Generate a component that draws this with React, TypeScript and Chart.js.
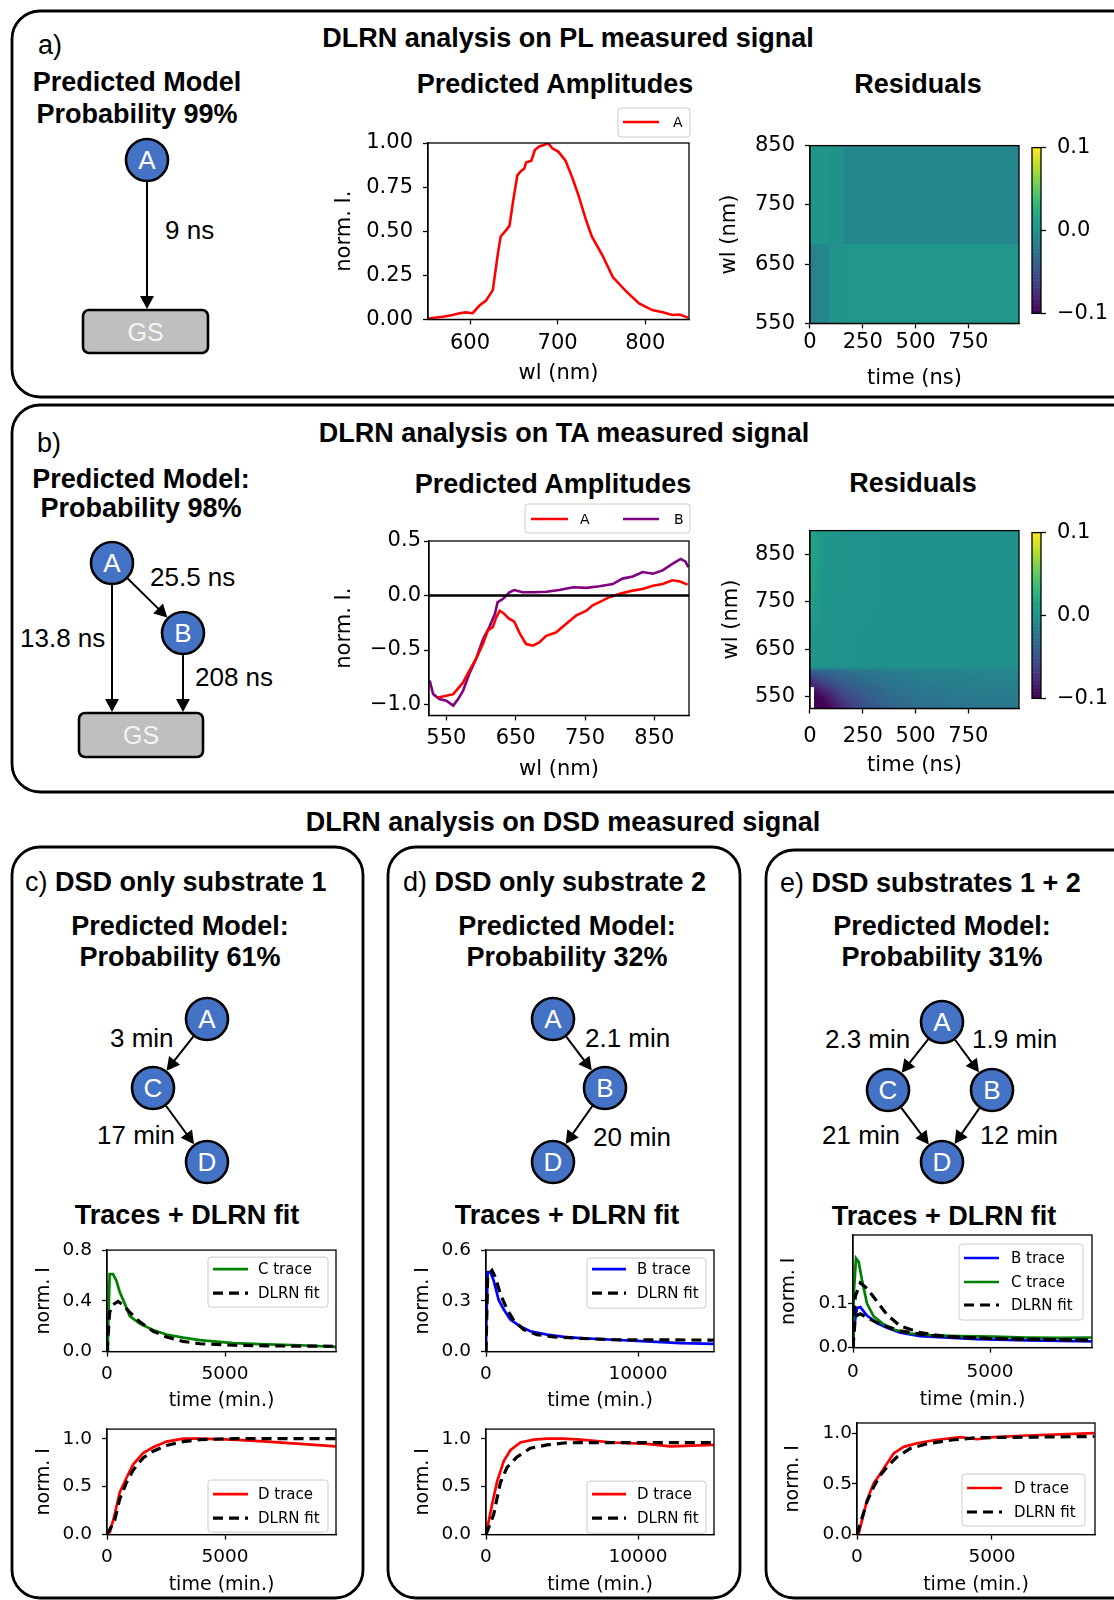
import React, { useEffect, useRef } from 'react';
import { Chart, registerables } from 'chart.js';
Chart.register(...registerables);

const ARIAL = '"Liberation Sans", Arial, Helvetica, sans-serif';
const MPL = '"DejaVu Sans", "Liberation Sans", sans-serif';
Chart.defaults.font.family = MPL;
Chart.defaults.color = '#000';

// ---------------- Panel a: PL amplitudes ----------------
const plWl = [552, 569, 580, 588, 595, 603, 611, 618, 626, 632, 635, 641, 645, 649, 654, 658, 662, 664, 670, 674, 679, 685, 689, 694, 701, 709, 717, 724, 732, 739, 751, 763, 778, 793, 808, 820, 831, 839, 849];
const plAmpA = [0.005, 0.015, 0.025, 0.035, 0.04, 0.035, 0.08, 0.105, 0.166, 0.38, 0.47, 0.505, 0.53, 0.665, 0.817, 0.84, 0.855, 0.89, 0.9, 0.96, 0.98, 0.99, 1.0, 0.97, 0.95, 0.9, 0.8, 0.7, 0.57, 0.47, 0.365, 0.24, 0.16, 0.09, 0.053, 0.04, 0.025, 0.028, 0.01];
const plWlTicks = [600, 700, 800];
const plAmpTicks = [0, 0.25, 0.5, 0.75, 1.0];

// ---------------- Panel b: TA amplitudes ----------------
const taWlA = [538, 550, 560, 564, 574, 584, 593, 603, 610, 617, 622, 627, 632, 640, 648, 656, 665, 675, 684, 694, 708, 723, 737, 752, 761, 776, 785, 800, 819, 833, 848, 862, 876, 886, 898];
const taAmpA = [-0.935, -0.92, -0.905, -0.875, -0.8, -0.68, -0.58, -0.44, -0.32, -0.29, -0.2, -0.14, -0.16, -0.21, -0.24, -0.35, -0.445, -0.46, -0.43, -0.37, -0.34, -0.26, -0.185, -0.14, -0.09, -0.045, -0.015, 0.015, 0.045, 0.06, 0.09, 0.105, 0.14, 0.13, 0.1];
const taWlB = [526, 531, 540, 550, 560, 567, 574, 584, 593, 603, 612, 620, 624, 632, 641, 648, 660, 675, 694, 713, 733, 752, 771, 790, 804, 819, 833, 848, 862, 876, 888, 895, 899];
const taAmpB = [-0.78, -0.905, -0.95, -0.965, -1.01, -0.95, -0.875, -0.705, -0.58, -0.4, -0.29, -0.17, -0.06, -0.03, 0.03, 0.05, 0.03, 0.03, 0.035, 0.05, 0.075, 0.07, 0.085, 0.105, 0.155, 0.175, 0.215, 0.2, 0.23, 0.29, 0.335, 0.31, 0.26];
const taZeroWl = [525, 900];
const taZeroVal = [0, 0];
const taWlTicks = [550, 650, 750, 850];
const taAmpTicks = [-1.0, -0.5, 0.0, 0.5];

// ---------------- Residual maps ----------------
const resTimeTicks = [0, 250, 500, 750];
const resWlTicks = [550, 650, 750, 850];
const cbarTicks = [-0.1, 0.0, 0.1];
const resPLTimeEdges = [0, 30, 90, 160, 990];
const resPLWlEdges = [550, 685, 850];
const resPLValues = [
  [-0.012, -0.008, 0.002, 0.004],
  [0.004, 0.003, 0.0, -0.009],
];
const resTATimeEdges = [0, 20, 45, 80, 130, 200, 300, 450, 650, 990];
const resTAWlEdges = [525, 540, 555, 570, 585, 600, 610, 614, 700, 800, 900];
const resTAValues = [
  [null, -0.1, -0.1, -0.09, -0.07, -0.05, -0.035, -0.025, -0.02],
  [null, -0.1, -0.095, -0.08, -0.06, -0.045, -0.032, -0.023, -0.018],
  [null, -0.09, -0.08, -0.068, -0.052, -0.04, -0.028, -0.02, -0.015],
  [-0.08, -0.07, -0.062, -0.052, -0.042, -0.032, -0.024, -0.017, -0.013],
  [-0.055, -0.05, -0.045, -0.04, -0.033, -0.026, -0.02, -0.014, -0.011],
  [-0.04, -0.037, -0.034, -0.03, -0.026, -0.021, -0.016, -0.012, -0.009],
  [0.004, 0.003, 0.002, 0.001, 0.001, 0.0, 0.0, 0.0, 0.0],
  [0.004, 0.003, 0.002, 0.001, 0.001, 0.0, 0.0, 0.0, 0.0],
  [0.012, 0.008, 0.005, 0.002, 0.001, 0.001, 0.0, 0.0, 0.0],
  [0.016, 0.011, 0.006, 0.003, 0.002, 0.001, 0.0, 0.0, 0.0],
];

// ---------------- Panel c traces ----------------
const cTimeC = [0, 42, 113, 255, 396, 538, 680, 963, 1388, 1954, 2520, 3230, 3936, 5352, 6768, 8185, 9700];
const cTraceC = [0.0, 0.14, 0.61, 0.61, 0.56, 0.47, 0.41, 0.28, 0.22, 0.17, 0.135, 0.11, 0.09, 0.067, 0.057, 0.05, 0.037];
const cFitTimeC = [0, 113, 255, 467, 680, 963, 1388, 1954, 2520, 3230, 3936, 5352, 6768, 9700];
const cFitC = [0, 0.31, 0.37, 0.395, 0.37, 0.31, 0.235, 0.16, 0.116, 0.08, 0.062, 0.05, 0.045, 0.042];
const cTimeD = [113, 326, 538, 821, 1104, 1529, 1954, 2520, 3230, 3936, 5352, 6768, 8185, 9700];
const cTraceD = [0.016, 0.21, 0.44, 0.59, 0.73, 0.85, 0.91, 0.97, 1.0, 1.0, 0.99, 0.97, 0.945, 0.92];
const cFitTimeD = [0, 326, 538, 821, 1104, 1529, 1954, 2520, 3230, 3936, 5352, 9700];
const cFitD = [0, 0.15, 0.37, 0.54, 0.67, 0.8, 0.87, 0.93, 0.97, 0.99, 1.0, 1.0];
const cTimeTicks = [0, 5000];
const cTopTicks = [0, 0.4, 0.8];

// ---------------- Panel d traces ----------------
const dTimeB = [0, 10, 110, 285, 504, 833, 1162, 1600, 2259, 2917, 4013, 5110, 6206, 8399, 10592, 12785, 15000];
const dTraceB = [0, 0.12, 0.47, 0.47, 0.42, 0.305, 0.25, 0.19, 0.148, 0.12, 0.1, 0.087, 0.08, 0.07, 0.06, 0.05, 0.046];
const dFitTimeB = [0, 110, 395, 614, 943, 1382, 1820, 2478, 3355, 4452, 6206, 8399, 15000];
const dFitB = [0, 0.45, 0.48, 0.44, 0.34, 0.25, 0.185, 0.13, 0.1, 0.087, 0.078, 0.07, 0.068];
const dTimeD = [0, 395, 724, 1162, 1600, 2259, 3136, 4013, 5110, 6206, 8399, 10592, 12127, 15000];
const dTraceD = [0, 0.31, 0.55, 0.765, 0.88, 0.96, 0.99, 1.0, 1.0, 0.99, 0.96, 0.945, 0.92, 0.935];
const dFitTimeD = [0, 504, 943, 1382, 2040, 2917, 4013, 5110, 6206, 15000];
const dFitD = [0, 0.21, 0.54, 0.7, 0.81, 0.9, 0.935, 0.955, 0.96, 0.96];
const dTimeTicks = [0, 10000];
const dTopTicks = [0, 0.3, 0.6];

// ---------------- Panel e traces ----------------
const eTimeB = [0, 24, 146, 267, 510, 874, 1238, 1724, 2452, 3302, 4516, 6337, 8704];
const eTraceB = [0, 0.041, 0.09, 0.092, 0.073, 0.056, 0.045, 0.034, 0.026, 0.023, 0.019, 0.0165, 0.014];
const eTimeC = [0, 24, 109, 206, 328, 510, 753, 1117, 1481, 2088, 2938, 3909, 5123, 6337, 7551, 8704];
const eTraceC = [0, 0.117, 0.203, 0.195, 0.154, 0.1, 0.071, 0.053, 0.041, 0.032, 0.028, 0.026, 0.025, 0.023, 0.022, 0.023];
const eFitTimeB = [0, 85, 267, 631, 1117, 1724, 2695, 3909, 6337, 8704];
const eFitB = [0, 0.071, 0.077, 0.064, 0.05, 0.038, 0.028, 0.023, 0.019, 0.017];
const eFitTimeC = [0, 85, 267, 510, 874, 1238, 1724, 2452, 3302, 5123, 8704];
const eFitC = [0, 0.117, 0.147, 0.135, 0.105, 0.075, 0.049, 0.034, 0.026, 0.02, 0.017];
const eTimeD = [62, 370, 617, 865, 1111, 1358, 1729, 2223, 2841, 3829, 4446, 5064, 6300, 7535, 8800];
const eTraceD = [0.01, 0.34, 0.505, 0.6, 0.7, 0.8, 0.865, 0.9, 0.93, 0.96, 0.94, 0.96, 0.977, 0.987, 1.0];
const eFitTimeD = [0, 370, 617, 865, 1111, 1482, 1976, 2594, 3582, 4446, 6300, 8800];
const eFitD = [0, 0.325, 0.47, 0.585, 0.667, 0.765, 0.85, 0.895, 0.935, 0.955, 0.96, 0.967];
const eTimeTicks = [0, 5000];
const eTopTicks = [0, 0.1];
const bottomTicks = [0, 0.5, 1.0];

// ---------------- helpers ----------------
const VIR = ['#440154', '#482475', '#414487', '#355f8d', '#2a788e', '#21918c', '#22a884', '#44bf70', '#7ad151', '#bddf26', '#fde725'];
function hex(h: string) { return [1, 3, 5].map((i) => parseInt(h.slice(i, i + 2), 16)); }
function viridis(t: number) {
  t = Math.max(0, Math.min(1, t));
  const p = t * 10; const i = Math.min(9, Math.floor(p)); const f = p - i;
  const a = hex(VIR[i]); const b = hex(VIR[i + 1]);
  const c = a.map((v, k) => Math.round(v + (b[k] - v) * f));
  return `rgb(${c[0]},${c[1]},${c[2]})`;
}
const mfmt = (d: number) => (v: any) => {
  const n = Number(v);
  if (Math.abs(n) < 1e-9) return (0).toFixed(d);
  return n.toFixed(d).replace('-', '\u2212');
};
const ifmt = (v: any) => String(Math.round(Number(v)));
const pts = (xs: number[], ys: number[]) => xs.map((x, i) => ({ x, y: ys[i] }));

function lineDs(label: string, xs: number[], ys: number[], color: string, width: number, dash: number[] = [], order = 1) {
  return { label, data: pts(xs, ys), borderColor: color, backgroundColor: color, borderWidth: width, borderDash: dash, pointRadius: 0, tension: 0, fill: false, order };
}

function axis(pos: string, min: number, max: number, ticks: number[], fmt: any, title: string, tickSize: number, titleSize: number, pad: number, size: number, isX: boolean) {
  return {
    type: 'linear', position: pos, min, max,
    afterBuildTicks: (sc: any) => { sc.ticks = ticks.map((v) => ({ value: v })); },
    afterFit: (sc: any) => { if (isX) sc.height = size; else sc.width = size; },
    ticks: { padding: pad, font: { family: MPL, size: tickSize }, color: '#000', maxRotation: 0, autoSkip: false, includeBounds: false, callback: (v: any) => fmt(v) },
    grid: { display: true, drawOnChartArea: false, drawTicks: true, tickLength: 5, tickWidth: 1.3, tickColor: '#000' },
    border: { display: true, color: '#000', width: 1.3 },
    title: { display: !!title, text: title, font: { family: MPL, size: titleSize }, color: '#000', padding: { top: 0, bottom: 0 } },
  };
}

function makeDecor(spec: any) {
  return {
    id: 'decor',
    afterDatasetsDraw(chart: any) {
      const { ctx, chartArea: ca } = chart;
      ctx.save();
      ctx.setLineDash([]);
      ctx.strokeStyle = '#000'; ctx.lineWidth = 1.3;
      ctx.strokeRect(ca.left, ca.top, ca.right - ca.left, ca.bottom - ca.top);
      const lg = spec.legend;
      if (lg) {
        const px = (x: number) => ca.left + (x - spec.L);
        const py = (y: number) => ca.top + (y - spec.T);
        const [x1, y1, x2, y2] = lg.box;
        const r = 3;
        const X1 = px(x1), Y1 = py(y1), X2 = px(x2), Y2 = py(y2);
        ctx.beginPath();
        ctx.moveTo(X1 + r, Y1); ctx.lineTo(X2 - r, Y1); ctx.arcTo(X2, Y1, X2, Y1 + r, r);
        ctx.lineTo(X2, Y2 - r); ctx.arcTo(X2, Y2, X2 - r, Y2, r);
        ctx.lineTo(X1 + r, Y2); ctx.arcTo(X1, Y2, X1, Y2 - r, r);
        ctx.lineTo(X1, Y1 + r); ctx.arcTo(X1, Y1, X1 + r, Y1, r);
        ctx.closePath();
        ctx.fillStyle = 'rgba(255,255,255,0.85)'; ctx.fill();
        ctx.strokeStyle = '#cccccc'; ctx.lineWidth = 1; ctx.stroke();
        lg.items.forEach((it: any) => {
          const ds = chart.data.datasets[it.ds];
          ctx.strokeStyle = ds.borderColor; ctx.lineWidth = ds.borderWidth;
          ctx.setLineDash(ds.borderDash || []);
          ctx.beginPath(); ctx.moveTo(px(it.x1), py(it.y)); ctx.lineTo(px(it.x2), py(it.y)); ctx.stroke();
          ctx.setLineDash([]);
          ctx.fillStyle = '#000'; ctx.font = `${lg.size}px ${MPL}`;
          ctx.textBaseline = 'middle'; ctx.textAlign = 'left';
          ctx.fillText(ds.label, px(it.tx), py(it.y) + 1);
        });
      }
      ctx.restore();
    },
  };
}

function idxIn(edges: number[], v: number) {
  for (let i = 0; i < edges.length - 1; i++) if (v >= edges[i] && v <= edges[i + 1]) return i;
  return v < edges[0] ? 0 : edges.length - 2;
}
function centers(edges: number[]) { return edges.slice(0, -1).map((e, i) => (e + edges[i + 1]) / 2); }
function bracket(cs: number[], v: number) {
  if (v <= cs[0]) return [0, 0, 0];
  if (v >= cs[cs.length - 1]) return [cs.length - 1, cs.length - 1, 0];
  for (let i = 0; i < cs.length - 1; i++) if (v >= cs[i] && v <= cs[i + 1]) return [i, i + 1, (v - cs[i]) / (cs[i + 1] - cs[i])];
  return [0, 0, 0];
}

function makeHeat(tEdges: number[], wEdges: number[], values: any[][], smooth: boolean) {
  return {
    id: 'heat',
    beforeDatasetsDraw(chart: any) {
      const { ctx, chartArea: ca, scales } = chart;
      const xs = scales.x, ys = scales.y;
      ctx.save();
      ctx.beginPath(); ctx.rect(ca.left, ca.top, ca.right - ca.left, ca.bottom - ca.top); ctx.clip();
      if (!smooth) {
        for (let r = 0; r < values.length; r++) {
          for (let c = 0; c < values[r].length; c++) {
            const v = values[r][c];
            if (v === null || v === undefined) continue;
            const xa = xs.getPixelForValue(tEdges[c]), xb = xs.getPixelForValue(tEdges[c + 1]);
            const ya = ys.getPixelForValue(wEdges[r]), yb = ys.getPixelForValue(wEdges[r + 1]);
            ctx.fillStyle = viridis((v + 0.1) / 0.2);
            ctx.fillRect(Math.min(xa, xb), Math.min(ya, yb), Math.abs(xb - xa) + 0.6, Math.abs(yb - ya) + 0.6);
          }
        }
      } else {
        const tc = centers(tEdges), wc = centers(wEdges);
        const step = 2;
        for (let px = ca.left; px < ca.right; px += step) {
          const t = xs.getValueForPixel(px + step / 2);
          const [c0, c1, fx] = bracket(tc, t);
          for (let py = ca.top; py < ca.bottom; py += step) {
            const w = ys.getValueForPixel(py + step / 2);
            const own = values[idxIn(wEdges, w)][idxIn(tEdges, t)];
            if (own === null || own === undefined) continue;
            const [r0, r1, fy] = bracket(wc, w);
            const cand = [[r0, c0, (1 - fx) * (1 - fy)], [r0, c1, fx * (1 - fy)], [r1, c0, (1 - fx) * fy], [r1, c1, fx * fy]];
            let s = 0, ws = 0;
            cand.forEach(([r, c, k]: any) => { const v = values[r][c]; if (v !== null && v !== undefined && k > 0) { s += v * k; ws += k; } });
            const v = ws > 0 ? s / ws : own;
            ctx.fillStyle = viridis((v + 0.1) / 0.2);
            ctx.fillRect(px, py, step + 0.5, step + 0.5);
          }
        }
      }
      ctx.restore();
    },
  };
}

const cbarPlugin = {
  id: 'cbar',
  beforeDatasetsDraw(chart: any) {
    const { ctx, chartArea: ca, scales } = chart;
    const ys = scales.y;
    const n = 120;
    ctx.save();
    for (let i = 0; i < n; i++) {
      const v0 = -0.1 + (0.2 * i) / n, v1 = -0.1 + (0.2 * (i + 1)) / n;
      const ya = ys.getPixelForValue(v0), yb = ys.getPixelForValue(v1);
      ctx.fillStyle = viridis((v0 + v1 + 0.2) / 0.4);
      ctx.fillRect(ca.left, Math.min(ya, yb), ca.right - ca.left, Math.abs(yb - ya) + 0.6);
    }
    ctx.strokeStyle = '#000'; ctx.lineWidth = 1.3;
    ctx.strokeRect(ca.left, ca.top, ca.right - ca.left, ca.bottom - ca.top);
    ctx.restore();
  },
};

function ChartCanvas({ rect, build }: { rect: any; build: () => any }) {
  const ref = useRef<HTMLCanvasElement>(null);
  useEffect(() => {
    const cfg = build();
    const chart = new Chart(ref.current as HTMLCanvasElement, cfg);
    return () => chart.destroy();
  }, []);
  return <canvas ref={ref} width={rect.w} height={rect.h} style={{ position: 'absolute', left: rect.x, top: rect.y, width: rect.w, height: rect.h }} />;
}

function baseOptions(pad: any) {
  return {
    responsive: false, animation: false, devicePixelRatio: 1, events: [],
    layout: { padding: pad },
    plugins: { legend: { display: false }, tooltip: { enabled: false }, title: { display: false } },
  };
}

function Plot({ spec }: { spec: any }) {
  const s = spec;
  const tS = s.tickSize, tT = s.titleSize;
  const xPad = s.xLabelY - s.B - 5 - 0.6 * tS;
  const xH = s.xTitleY - s.B + 0.6 * tT;
  const yPad = s.L - 5 - s.yLabelR;
  const yW = s.L - s.yTitleX + 0.6 * tT;
  const padB = 4, padT = s.padT, padR = s.padR;
  const rect = { x: Math.round(s.L - yW - 4), y: s.T - padT, w: 0, h: 0 };
  const realPadL = s.L - yW - rect.x;
  rect.w = Math.round(realPadL + yW + (s.R - s.L) + padR);
  rect.h = Math.round(padT + (s.B - s.T) + xH + padB);
  const build = () => {
    const opts: any = baseOptions({ left: realPadL, right: padR, top: padT, bottom: padB });
    opts.scales = {
      x: axis('bottom', s.xMin, s.xMax, s.xTicks, s.xFmt, s.xTitle, tS, tT, xPad, xH, true),
      y: axis('left', s.yMin, s.yMax, s.yTicks, s.yFmt, s.yTitle, tS, tT, yPad, yW, false),
    };
    const plugins: any[] = [];
    if (s.heat) plugins.push(makeHeat(s.heat[0], s.heat[1], s.heat[2], !!s.smooth));
    plugins.push(makeDecor(s));
    return { type: 'line', data: { datasets: s.datasets || [] }, options: opts, plugins };
  };
  return <ChartCanvas rect={rect} build={build} />;
}

function Colorbar({ L, R, T, B }: any) {
  const padL = 2, padR = 4, padT = 14, padB = 14, yW = 66;
  const rect = { x: L - padL, y: T - padT, w: padL + (R - L) + yW + padR, h: padT + (B - T) + padB };
  const build = () => {
    const opts: any = baseOptions({ left: padL, right: padR, top: padT, bottom: padB });
    const y: any = axis('right', -0.1, 0.1, cbarTicks, mfmt(1), '', 21, 21, 11, yW, false);
    y.border = { display: false };
    opts.scales = { x: { type: 'linear', display: false, min: 0, max: 1 }, y };
    return { type: 'line', data: { datasets: [] }, options: opts, plugins: [cbarPlugin] };
  };
  return <ChartCanvas rect={rect} build={build} />;
}

// ---------------- chart specs ----------------
const specA1 = {
  L: 428, T: 143, R: 689, B: 319, padT: 40, padR: 10, tickSize: 21, titleSize: 21,
  xMin: 552, xMax: 850, xTicks: plWlTicks, xFmt: ifmt, xTitle: 'wl (nm)', xLabelY: 343.5, xTitleY: 373,
  yMin: 0, yMax: 1, yTicks: plAmpTicks, yFmt: mfmt(2), yTitle: 'norm. I.', yLabelR: 413, yTitleX: 345,
  datasets: [lineDs('A', plWl, plAmpA, '#ff0000', 2.6)],
  legend: { box: [618, 108, 690, 137], size: 14, items: [{ ds: 0, x1: 623, x2: 659, tx: 673, y: 122 }] },
};
const specA2 = {
  L: 810, T: 138, R: 1019, B: 323, padT: 15, padR: 5, tickSize: 21, titleSize: 21,
  xMin: 0, xMax: 990, xTicks: resTimeTicks, xFmt: ifmt, xTitle: 'time (ns)', xLabelY: 342, xTitleY: 378,
  yMin: 550, yMax: 850, yTicks: resWlTicks, yFmt: ifmt, yTitle: 'wl (nm)', yLabelR: 795, yTitleX: 730,
  heat: [resPLTimeEdges, resPLWlEdges, resPLValues], smooth: false,
};
const specB1 = {
  L: 429, T: 541, R: 689, B: 715, padT: 40, padR: 10, tickSize: 21, titleSize: 21,
  xMin: 525, xMax: 900, xTicks: taWlTicks, xFmt: ifmt, xTitle: 'wl (nm)', xLabelY: 738, xTitleY: 769,
  yMin: -1.1, yMax: 0.5, yTicks: taAmpTicks, yFmt: mfmt(1), yTitle: 'norm. I.', yLabelR: 421, yTitleX: 345,
  datasets: [
    lineDs('A', taWlA, taAmpA, '#ff0000', 2.6, [], 1),
    lineDs('B', taWlB, taAmpB, '#800080', 2.6, [], 2),
    lineDs('zero', taZeroWl, taZeroVal, '#000000', 2.6, [], 0),
  ],
  legend: { box: [525, 504, 690, 533], size: 14, items: [{ ds: 0, x1: 531, x2: 568, tx: 580, y: 519 }, { ds: 1, x1: 623, x2: 659, tx: 674, y: 519 }] },
};
const specB2 = {
  L: 810, T: 523, R: 1019, B: 708, padT: 15, padR: 5, tickSize: 21, titleSize: 21,
  xMin: 0, xMax: 990, xTicks: resTimeTicks, xFmt: ifmt, xTitle: 'time (ns)', xLabelY: 736, xTitleY: 765,
  yMin: 525, yMax: 900, yTicks: resWlTicks, yFmt: ifmt, yTitle: 'wl (nm)', yLabelR: 795, yTitleX: 732,
  heat: [resTATimeEdges, resTAWlEdges, resTAValues], smooth: true,
};

const FIT = [10, 6];
function traceSpec(o: any) {
  return { padT: 15, padR: 8, tickSize: 18.5, titleSize: 19, xFmt: ifmt, xTitle: 'time (min.)', yFmt: mfmt(1), yTitle: 'norm. I', ...o };
}
const specC1 = traceSpec({
  L: 107, T: 1244, R: 336, B: 1352, xMin: 0, xMax: 9700, xTicks: cTimeTicks, xLabelY: 1375, xTitleY: 1401,
  yMin: 0, yMax: 0.8, yTicks: cTopTicks, yLabelR: 92, yTitleX: 44,
  datasets: [lineDs('C trace', cTimeC, cTraceC, '#008000', 2.7, [], 1), lineDs('DLRN fit', cFitTimeC, cFitC, '#000000', 3.2, FIT, 0)],
  legend: { box: [208, 1251, 328, 1301], size: 15, items: [{ ds: 0, x1: 213, x2: 248, tx: 258, y: 1263 }, { ds: 1, x1: 213, x2: 248, tx: 258, y: 1287 }] },
});
const specC2 = traceSpec({
  L: 107, T: 1423, R: 336, B: 1535, xMin: 0, xMax: 9700, xTicks: cTimeTicks, xLabelY: 1558, xTitleY: 1585,
  yMin: 0, yMax: 1.1, yTicks: bottomTicks, yLabelR: 92, yTitleX: 44,
  datasets: [lineDs('D trace', cTimeD, cTraceD, '#ff0000', 2.7, [], 1), lineDs('DLRN fit', cFitTimeD, cFitD, '#000000', 3.2, FIT, 0)],
  legend: { box: [208, 1474, 328, 1526], size: 15, items: [{ ds: 0, x1: 213, x2: 248, tx: 258, y: 1488 }, { ds: 1, x1: 213, x2: 248, tx: 258, y: 1512 }] },
});
const specD1 = traceSpec({
  L: 486, T: 1244, R: 714, B: 1352, xMin: 0, xMax: 15000, xTicks: dTimeTicks, xLabelY: 1375, xTitleY: 1401,
  yMin: 0, yMax: 0.6, yTicks: dTopTicks, yLabelR: 471, yTitleX: 423,
  datasets: [lineDs('B trace', dTimeB, dTraceB, '#0000ff', 2.7, [], 1), lineDs('DLRN fit', dFitTimeB, dFitB, '#000000', 3.2, FIT, 0)],
  legend: { box: [587, 1252, 706, 1302], size: 15, items: [{ ds: 0, x1: 592, x2: 626, tx: 637, y: 1263 }, { ds: 1, x1: 592, x2: 626, tx: 637, y: 1287 }] },
});
const specD2 = traceSpec({
  L: 486, T: 1423, R: 714, B: 1535, xMin: 0, xMax: 15000, xTicks: dTimeTicks, xLabelY: 1558, xTitleY: 1585,
  yMin: 0, yMax: 1.1, yTicks: bottomTicks, yLabelR: 471, yTitleX: 423,
  datasets: [lineDs('D trace', dTimeD, dTraceD, '#ff0000', 2.7, [], 1), lineDs('DLRN fit', dFitTimeD, dFitD, '#000000', 3.2, FIT, 0)],
  legend: { box: [587, 1475, 706, 1527], size: 15, items: [{ ds: 0, x1: 592, x2: 626, tx: 637, y: 1488 }, { ds: 1, x1: 592, x2: 626, tx: 637, y: 1512 }] },
});
const specE1 = traceSpec({
  L: 853, T: 1235, R: 1092, B: 1348, xMin: 0, xMax: 8720, xTicks: eTimeTicks, xLabelY: 1373, xTitleY: 1400,
  yMin: 0, yMax: 0.256, yTicks: eTopTicks, yLabelR: 848, yTitleX: 789,
  datasets: [
    lineDs('B trace', eTimeB, eTraceB, '#0000ff', 2.7, [], 2),
    lineDs('C trace', eTimeC, eTraceC, '#008000', 2.7, [], 1),
    lineDs('DLRN fit', eFitTimeB, eFitB, '#000000', 3.2, FIT, 0),
    lineDs('DLRN fit', eFitTimeC, eFitC, '#000000', 3.2, FIT, 0),
  ],
  legend: { box: [959, 1244, 1083, 1320], size: 15, items: [{ ds: 0, x1: 964, x2: 999, tx: 1011, y: 1258 }, { ds: 1, x1: 964, x2: 999, tx: 1011, y: 1282 }, { ds: 2, x1: 964, x2: 999, tx: 1011, y: 1305 }] },
});
const specE2 = traceSpec({
  L: 857, T: 1423, R: 1095, B: 1535, xMin: 0, xMax: 8815, xTicks: eTimeTicks, xLabelY: 1558, xTitleY: 1585,
  yMin: 0, yMax: 1.1, yTicks: bottomTicks, yLabelR: 852, yTitleX: 793,
  datasets: [lineDs('D trace', eTimeD, eTraceD, '#ff0000', 2.7, [], 1), lineDs('DLRN fit', eFitTimeD, eFitD, '#000000', 3.2, FIT, 0)],
  legend: { box: [962, 1474, 1085, 1526], size: 15, items: [{ ds: 0, x1: 967, x2: 1002, tx: 1014, y: 1488 }, { ds: 1, x1: 967, x2: 1002, tx: 1014, y: 1512 }] },
});

// ---------------- diagrams ----------------
function Node({ x, y, label }: any) {
  return (
    <g>
      <circle cx={x} cy={y} r={21} fill="#4472c4" stroke="#000" strokeWidth={2.6} />
      <text x={x} y={y + 9.3} textAnchor="middle" fontFamily={ARIAL} fontSize={26} fill="#fff">{label}</text>
    </g>
  );
}
function Arrow({ x1, y1, x2, y2, r1 = 22, r2 = 22 }: any) {
  const dx = x2 - x1, dy = y2 - y1, len = Math.hypot(dx, dy);
  const ux = dx / len, uy = dy / len;
  const sx = x1 + ux * r1, sy = y1 + uy * r1;
  const tx = x2 - ux * r2, ty = y2 - uy * r2;
  const hl = 13, hw = 7;
  const bx = tx - ux * hl, by = ty - uy * hl;
  const px = -uy, py = ux;
  return (
    <g>
      <line x1={sx} y1={sy} x2={bx + ux} y2={by + uy} stroke="#000" strokeWidth={2} />
      <polygon points={`${tx},${ty} ${bx + px * hw},${by + py * hw} ${bx - px * hw},${by - py * hw}`} fill="#000" />
    </g>
  );
}
function GS({ x, y, w, h }: any) {
  return (
    <g>
      <rect x={x} y={y} width={w} height={h} rx={6} fill="#bfbfbf" stroke="#000" strokeWidth={2.6} />
      <text x={x + w / 2} y={y + h / 2 + 9} textAnchor="middle" fontFamily={ARIAL} fontSize={25} fill="#f4f4f4">GS</text>
    </g>
  );
}

function Diagrams() {
  return (
    <svg width={1114} height={1600} style={{ position: 'absolute', left: 0, top: 0 }}>
      <rect x={12} y={11} width={1130} height={386} rx={28} fill="none" stroke="#000" strokeWidth={2.8} />
      <rect x={12} y={405} width={1130} height={387} rx={28} fill="none" stroke="#000" strokeWidth={2.8} />
      <rect x={12} y={847} width={351} height={751} rx={28} fill="none" stroke="#000" strokeWidth={2.8} />
      <rect x={388} y={847} width={352} height={751} rx={28} fill="none" stroke="#000" strokeWidth={2.8} />
      <rect x={766} y={850} width={380} height={748} rx={28} fill="none" stroke="#000" strokeWidth={2.8} />
      <Arrow x1={147} y1={160} x2={147} y2={309} r2={0} />
      <GS x={83} y={310} w={125} h={43} />
      <Node x={147} y={160} label="A" />
      <Arrow x1={112} y1={563} x2={112} y2={712} r2={0} />
      <Arrow x1={183} y1={633} x2={183} y2={712} r2={0} />
      <Arrow x1={112} y1={563} x2={183} y2={633} />
      <GS x={79} y={713} w={124} h={44} />
      <Node x={112} y={563} label="A" />
      <Node x={183} y={633} label="B" />
      <Arrow x1={207} y1={1019} x2={153} y2={1088} />
      <Arrow x1={153} y1={1088} x2={207} y2={1162} />
      <Node x={207} y={1019} label="A" />
      <Node x={153} y={1088} label="C" />
      <Node x={207} y={1162} label="D" />
      <Arrow x1={553} y1={1019} x2={605} y2={1088} />
      <Arrow x1={605} y1={1088} x2={553} y2={1162} />
      <Node x={553} y={1019} label="A" />
      <Node x={605} y={1088} label="B" />
      <Node x={553} y={1162} label="D" />
      <Arrow x1={942} y1={1022} x2={888} y2={1090} />
      <Arrow x1={942} y1={1022} x2={992} y2={1090} />
      <Arrow x1={888} y1={1090} x2={942} y2={1162} />
      <Arrow x1={992} y1={1090} x2={942} y2={1162} />
      <Node x={942} y={1022} label="A" />
      <Node x={888} y={1090} label="C" />
      <Node x={992} y={1090} label="B" />
      <Node x={942} y={1162} label="D" />
    </svg>
  );
}

function Txt({ x, y, size = 27, bold = false, align = 'center', children }: any) {
  return (
    <div style={{
      position: 'absolute', left: x, top: y, transform: align === 'center' ? 'translate(-50%,-50%)' : 'translate(0,-50%)',
      fontFamily: ARIAL, fontSize: size, lineHeight: 1, fontWeight: bold ? 700 : 400, whiteSpace: 'nowrap', color: '#000',
    }}>{children}</div>
  );
}

function Texts() {
  return (
    <>
      <Txt x={38} y={45} align="left">a)</Txt>
      <Txt x={568} y={38} bold>DLRN analysis on PL measured signal</Txt>
      <Txt x={137} y={82} bold>Predicted Model</Txt>
      <Txt x={137} y={114} bold>Probability 99%</Txt>
      <Txt x={165} y={230} size={26} align="left">9 ns</Txt>
      <Txt x={555} y={84} bold>Predicted Amplitudes</Txt>
      <Txt x={918} y={84} bold>Residuals</Txt>
      <Txt x={37} y={443} align="left">b)</Txt>
      <Txt x={564} y={433} bold>DLRN analysis on TA measured signal</Txt>
      <Txt x={141} y={479} bold>Predicted Model:</Txt>
      <Txt x={141} y={508} bold>Probability 98%</Txt>
      <Txt x={150} y={577} size={26} align="left">25.5 ns</Txt>
      <Txt x={20} y={638} size={26} align="left">13.8 ns</Txt>
      <Txt x={195} y={677} size={26} align="left">208 ns</Txt>
      <Txt x={553} y={484} bold>Predicted Amplitudes</Txt>
      <Txt x={913} y={483} bold>Residuals</Txt>
      <Txt x={563} y={822} bold>DLRN analysis on DSD measured signal</Txt>
      <Txt x={25} y={882} align="left">c) <b>DSD only substrate 1</b></Txt>
      <Txt x={180} y={926} bold>Predicted Model:</Txt>
      <Txt x={180} y={957} bold>Probability 61%</Txt>
      <Txt x={110} y={1038} size={26} align="left">3 min</Txt>
      <Txt x={97} y={1135} size={26} align="left">17 min</Txt>
      <Txt x={187} y={1215} bold>Traces + DLRN fit</Txt>
      <Txt x={403} y={882} align="left">d) <b>DSD only substrate 2</b></Txt>
      <Txt x={567} y={926} bold>Predicted Model:</Txt>
      <Txt x={567} y={957} bold>Probability 32%</Txt>
      <Txt x={585} y={1038} size={26} align="left">2.1 min</Txt>
      <Txt x={593} y={1137} size={26} align="left">20 min</Txt>
      <Txt x={567} y={1215} bold>Traces + DLRN fit</Txt>
      <Txt x={780} y={883} align="left">e) <b>DSD substrates 1 + 2</b></Txt>
      <Txt x={942} y={926} bold>Predicted Model:</Txt>
      <Txt x={942} y={957} bold>Probability 31%</Txt>
      <Txt x={825} y={1039} size={26} align="left">2.3 min</Txt>
      <Txt x={972} y={1039} size={26} align="left">1.9 min</Txt>
      <Txt x={822} y={1135} size={26} align="left">21 min</Txt>
      <Txt x={980} y={1135} size={26} align="left">12 min</Txt>
      <Txt x={944} y={1216} bold>Traces + DLRN fit</Txt>
    </>
  );
}

export default function App() {
  return (
    <div style={{ position: 'relative', width: 1114, height: 1600, overflow: 'hidden', background: '#fff' }}>
      <style>{'html,body{margin:0;padding:0;overflow:hidden;background:#fff}'}</style>
      <Diagrams />
      <Texts />
      <Plot spec={specA1} />
      <Plot spec={specA2} />
      <Colorbar L={1032} R={1041} T={138} B={323} />
      <Plot spec={specB1} />
      <Plot spec={specB2} />
      <Colorbar L={1032} R={1041} T={523} B={708} />
      <Plot spec={specC1} />
      <Plot spec={specC2} />
      <Plot spec={specD1} />
      <Plot spec={specD2} />
      <Plot spec={specE1} />
      <Plot spec={specE2} />
    </div>
  );
}
